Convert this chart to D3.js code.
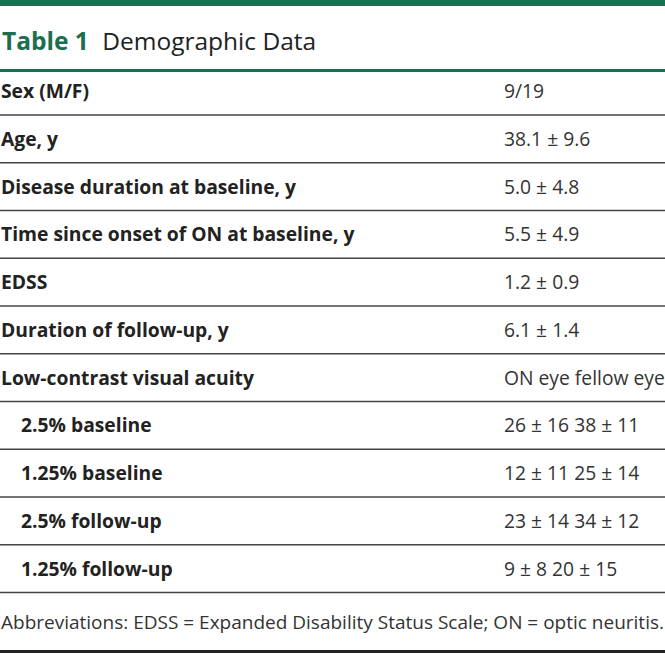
<!DOCTYPE html>
<html>
<head>
<meta charset="utf-8">
<script src="https://cdn.jsdelivr.net/npm/d3@7"></script>
<style>
  html, body { margin: 0; padding: 0; background: #fff; }
  svg { display: block; }
</style>
</head>
<body>
<div id="chart"></div>
<script>
// ---- Data ----
const titleLabel = "Table 1";
const titleText = "Demographic Data";
const rowLabels = [
  "Sex (M/F)",
  "Age, y",
  "Disease duration at baseline, y",
  "Time since onset of ON at baseline, y",
  "EDSS",
  "Duration of follow-up, y",
  "Low-contrast visual acuity",
  "2.5% baseline",
  "1.25% baseline",
  "2.5% follow-up",
  "1.25% follow-up"
];
const rowValues = [
  "9/19",
  "38.1 ± 9.6",
  "5.0 ± 4.8",
  "5.5 ± 4.9",
  "1.2 ± 0.9",
  "6.1 ± 1.4",
  "ON eye fellow eye",
  "26 ± 16 38 ± 11",
  "12 ± 11 25 ± 14",
  "23 ± 14 34 ± 12",
  "9 ± 8 20 ± 15"
];
const rowIndent = [false, false, false, false, false, false, false, true, true, true, true];
const footnote = "Abbreviations: EDSS = Expanded Disability Status Scale; ON = optic neuritis.";

// ---- Layout ----
const W = 665, H = 654;
const green = "#1b6e4f";
const font = "'Open Sans', 'Noto Sans', sans-serif";

const svg = d3.select("#chart").append("svg")
  .attr("width", W).attr("height", H);

// top green bar
svg.append("rect").attr("x", 0).attr("y", 0).attr("width", W).attr("height", 6).attr("fill", green);

// title
const title = svg.append("text")
  .attr("x", 2).attr("y", 50)
  .attr("font-family", font).attr("font-size", 24.5);
title.append("tspan").attr("font-weight", 700).attr("fill", green).text(titleLabel);
title.append("tspan").attr("dx", 7).attr("fill", "#222").text(" " + titleText);

// green rule under title
svg.append("rect").attr("x", 0).attr("y", 69).attr("width", W).attr("height", 3).attr("fill", green);

// row scale: separator positions
const sep = d3.scaleLinear().domain([0, rowLabels.length - 1]).range([115, 592.5]);

const rows = svg.selectAll("g.row").data(rowLabels).join("g").attr("class", "row");

rows.append("text")
  .attr("x", (d, i) => rowIndent[i] ? 21 : 1)
  .attr("y", (d, i) => sep(i) - 17)
  .attr("font-family", font).attr("font-size", 19.3).attr("font-weight", 700)
  .attr("fill", "#222")
  .text(d => d);

rows.append("text")
  .attr("x", 504)
  .attr("y", (d, i) => sep(i) - 17)
  .attr("font-family", font).attr("font-size", 19.3)
  .attr("fill", "#333")
  .text((d, i) => rowValues[i]);

rows.append("line")
  .attr("x1", 0).attr("x2", W)
  .attr("y1", (d, i) => sep(i)).attr("y2", (d, i) => sep(i))
  .attr("stroke", "#444").attr("stroke-width", 1.5);

// footnote
svg.append("text")
  .attr("x", 1).attr("y", 629)
  .attr("font-family", font).attr("font-size", 19)
  .attr("fill", "#333")
  .text(footnote);

// bottom rule
svg.append("rect").attr("x", 0).attr("y", 650).attr("width", W).attr("height", 3).attr("fill", "#222");
</script>
</body>
</html>
